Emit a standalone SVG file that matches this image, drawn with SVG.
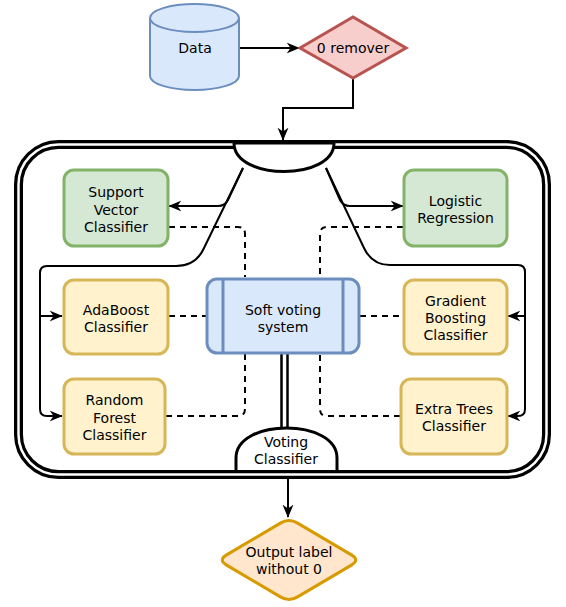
<svg xmlns="http://www.w3.org/2000/svg" width="566" height="607" viewBox="0 0 566 607">
<defs>
<marker id="arr" viewBox="0 0 10 10" refX="9.5" refY="5" markerWidth="13" markerHeight="13" markerUnits="userSpaceOnUse" orient="auto">
<path d="M0,0.8 L10,5 L0,9.2 L3,5 Z" fill="#000"/>
</marker>
</defs>
<style>
text{font-family:"DejaVu Sans","Liberation Sans",sans-serif;font-size:14px;fill:#000;text-anchor:middle}
.edge{fill:none;stroke:#000;stroke-width:2}
.dash{fill:none;stroke:#000;stroke-width:2;stroke-dasharray:6 5}
.green{fill:#d5e8d4;stroke:#82b366;stroke-width:3}
.yellow{fill:#fff2cc;stroke:#d6b656;stroke-width:3}
.blue{fill:#dae8fc;stroke:#6c8ebf;stroke-width:3}
</style>
<rect width="566" height="607" fill="#fff"/>
<g id="container">
<rect x="18.5" y="144.5" width="528" height="330" rx="40" fill="#fff" stroke="#000" stroke-width="9"/>
<rect x="18.5" y="144.5" width="528" height="330" rx="40" fill="none" stroke="#fff" stroke-width="2.5"/>
</g>
<g id="connectors">
<path class="edge" d="M239,48 L299,48" marker-end="url(#arr)"/>
<path class="edge" d="M353,78 L353,108 L283,108 L283,140" marker-end="url(#arr)"/>
<path class="edge" d="M243,168 L228,200 Q225,206 218,206 L169,206" marker-end="url(#arr)"/>
<path class="edge" d="M243,168 L204,248 Q196,266 176,266 L47,266 Q40,266 40,273 L40,316 L62,316" marker-end="url(#arr)"/>
<path class="edge" d="M40,316 L40,409 Q40,416 47,416 L62,416" marker-end="url(#arr)"/>
<path class="edge" d="M326,168 L340,200 Q343,206 350,206 L403,206" marker-end="url(#arr)"/>
<path class="edge" d="M326,168 L364,248 Q372,265 390,265 L518,265 Q525,265 525,272 L525,316 L508,316" marker-end="url(#arr)"/>
<path class="edge" d="M525,316 L525,409 Q525,416 518,416 L508,416" marker-end="url(#arr)"/>
<path class="dash" d="M169,227 L238,227 Q245,227 245,234 L245,277"/>
<path class="dash" d="M403,227 L327,227 Q320,227 320,234 L320,277"/>
<path class="dash" d="M169,316 L206,316"/>
<path class="dash" d="M360,316 L403,316"/>
<path class="dash" d="M166,416 L238,416 Q245,416 245,409 L245,354"/>
<path class="dash" d="M400,416 L327,416 Q320,416 320,409 L320,354"/>
<path fill="none" stroke="#000" stroke-width="2.5" d="M281.5,354 L281.5,430 M287.5,354 L287.5,430"/>
<path class="edge" d="M288,479 L288,517" marker-end="url(#arr)"/>
</g>
<g id="data">
<path d="M150,18 L150,76 A44.5,14 0 0 0 239,76 L239,18 A44.5,14 0 0 0 150,18 Z" fill="#dae8fc" stroke="#6c8ebf" stroke-width="2"/>
<path d="M150,18 A44.5,14 0 0 0 239,18" fill="none" stroke="#6c8ebf" stroke-width="2"/>
<text x="195" y="53">Data</text>
</g>
<g id="remover">
<polygon points="300,48 353,17 406,48 353,78" fill="#f8cecc" stroke="#b85450" stroke-width="3"/>
<text x="353" y="53">0 remover</text>
</g>
<g id="input">
<path d="M234,143 L334,143 C334,181 234,181 234,143 Z" fill="#fff" stroke="#000" stroke-width="3"/>
</g>
<g id="svc">
<rect x="64" y="170" width="104" height="76" rx="10" class="green"/>
<text x="116" y="197">Support</text>
<text x="116" y="215">Vector</text>
<text x="116" y="232">Classifier</text>
</g>
<g id="logistic">
<rect x="404" y="170" width="103" height="76" rx="10" class="green"/>
<text x="455.5" y="206">Logistic</text>
<text x="455.5" y="223">Regression</text>
</g>
<g id="adaboost">
<rect x="64" y="280" width="104" height="74" rx="10" class="yellow"/>
<text x="116" y="315">AdaBoost</text>
<text x="116" y="332">Classifier</text>
</g>
<g id="randomforest">
<rect x="64" y="379" width="101" height="75" rx="10" class="yellow"/>
<text x="114.5" y="405">Random</text>
<text x="114.5" y="422.5">Forest</text>
<text x="114.5" y="440">Classifier</text>
</g>
<g id="gradient">
<rect x="404" y="280" width="103" height="74" rx="10" class="yellow"/>
<text x="455.5" y="306">Gradient</text>
<text x="455.5" y="323">Boosting</text>
<text x="455.5" y="340">Classifier</text>
</g>
<g id="extratrees">
<rect x="401" y="379" width="106" height="75" rx="10" class="yellow"/>
<text x="454" y="414">Extra Trees</text>
<text x="454" y="431">Classifier</text>
</g>
<g id="softvoting">
<rect x="207" y="279" width="152" height="74" rx="10" class="blue"/>
<path d="M223,279 L223,353 M343,279 L343,353" stroke="#6c8ebf" stroke-width="3" fill="none"/>
<text x="283" y="315">Soft voting</text>
<text x="283" y="332">system</text>
</g>
<g id="votingclassifier">
<path d="M236,470 L236,458 C236,418 337,418 337,458 L337,470" fill="#fff" stroke="#000" stroke-width="3"/>
<text x="286" y="447">Voting</text>
<text x="286" y="464">Classifier</text>
</g>
<g id="output">
<path d="M297.6,523.1 L351.4,554.9 Q360,560 351.4,565.1 L297.6,596.9 Q289,602 280.4,596.9 L226.6,565.1 Q218,560 226.6,554.9 L280.4,523.1 Q289,518 297.6,523.1 Z" fill="#ffe6cc" stroke="#d79b00" stroke-width="3"/>
<text x="289" y="557">Output label</text>
<text x="289" y="574">without 0</text>
</g>
</svg>
